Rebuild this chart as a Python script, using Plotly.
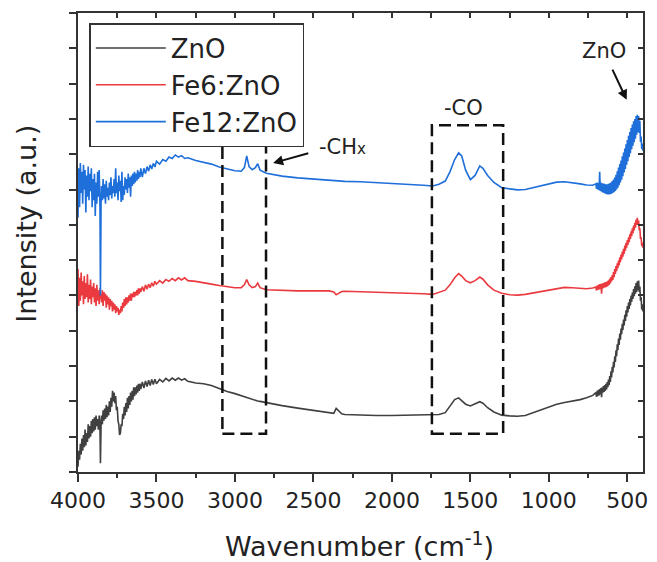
import plotly.graph_objects as go

# ---------------- data ----------------
series_names = ["ZnO", "Fe6:ZnO", "Fe12:ZnO"]

# wavenumber grid shared by the noisy high-wavenumber part (cm-1)
wn_noise = [4000, 3995, 3990, 3985, 3980, 3975, 3970, 3965, 3960, 3955, 3950, 3945, 3940, 3935, 3930, 3925,
            3920, 3915, 3910, 3905, 3900, 3895, 3890, 3885, 3880, 3875, 3870, 3865, 3860, 3857, 3853, 3850,
            3845, 3840, 3835, 3830, 3825, 3820, 3815, 3810, 3805, 3800, 3795, 3790, 3785, 3780, 3775, 3770,
            3765, 3760, 3755, 3750, 3745, 3740, 3735, 3730, 3725, 3720, 3715, 3710, 3705, 3700, 3695, 3690,
            3685, 3680, 3675, 3670, 3665, 3660, 3655, 3650, 3645, 3640, 3635, 3630, 3625, 3620, 3615, 3610,
            3605, 3600, 3590, 3580, 3570, 3560, 3550, 3540, 3530, 3520, 3510, 3500]
# middle part grid
wn_mid = [3480, 3460, 3440, 3420, 3400, 3380, 3360, 3340, 3320, 3300, 3250, 3200, 3150, 3100, 3050, 3000,
          2960, 2940, 2925, 2910, 2890, 2870, 2855, 2840, 2800, 2700, 2600, 2500, 2400, 2370, 2355, 2340,
          2320, 2300, 2200, 2100, 2000, 1900, 1800, 1740, 1700, 1660, 1630, 1600, 1575, 1555, 1530, 1500,
          1470, 1440, 1420, 1390, 1350, 1300, 1250, 1200, 1150, 1100, 1050, 1000, 950, 900, 850, 800, 760, 720]
# low-wavenumber (thick, noisy band) grid
wn_low = [700, 696, 692, 688, 684, 680, 676, 672, 668, 664, 660, 656, 652, 648, 644, 640, 636, 632, 628, 624,
          620, 616, 612, 608, 604, 600, 596, 592, 588, 584, 580, 576, 572, 568, 564, 560, 556, 552, 548, 544,
          540, 536, 532, 528, 524, 520, 516, 512, 508, 504, 500, 496, 492, 488, 484, 480, 476, 472, 468, 464,
          460, 456, 452, 448, 444, 440, 436, 432, 428, 424, 420, 416, 412, 408, 404, 401]

zno_noise = [0.15, 0.6, 0.35, 0.8, 0.5, 0.95, 0.6, 1.05, 0.7, 1.2, 0.75, 1.1, 0.85, 1.35, 0.95, 1.3,
             1.0, 1.45, 1.1, 1.5, 1.15, 1.55, 1.2, 1.6, 1.3, 1.5, 1.2, 1.6, 1.3, 0.25, 1.35, 1.6,
             1.35, 1.75, 1.45, 1.8, 1.5, 1.9, 1.55, 1.85, 1.6, 2.0, 1.7, 2.1, 1.85, 2.3, 2.0, 2.25,
             1.95, 2.15, 1.75, 1.85, 1.45, 1.35, 1.05, 1.1, 1.35, 1.3, 1.65, 1.5, 1.85, 1.6, 1.95, 1.7,
             2.1, 1.8, 2.15, 1.9, 2.25, 2.0, 2.3, 2.05, 2.4, 2.15, 2.4, 2.2, 2.45, 2.25, 2.5, 2.3,
             2.5, 2.35, 2.55, 2.38, 2.58, 2.42, 2.6, 2.45, 2.62, 2.48, 2.63, 2.5]
zno_mid = [2.62, 2.55, 2.65, 2.58, 2.66, 2.6, 2.66, 2.6, 2.64, 2.57, 2.52, 2.5, 2.45, 2.36, 2.28, 2.22,
           2.16, 2.13, 2.1, 2.08, 2.06, 2.03, 2.01, 2.0, 1.96, 1.88, 1.81, 1.74, 1.68, 1.66, 1.8, 1.74,
           1.65, 1.63, 1.61, 1.6, 1.6, 1.61, 1.62, 1.61, 1.63, 1.68, 1.85, 2.05, 2.1, 2.02, 1.92, 1.87,
           1.93, 1.99, 1.95, 1.82, 1.7, 1.61, 1.59, 1.58, 1.6, 1.68, 1.78, 1.86, 1.92, 1.97, 2.0, 2.05, 2.1, 2.17]
zno_low = [2.25, 2.13, 2.3, 2.15, 2.33, 2.17, 2.35, 2.2, 2.38, 2.12, 2.4, 2.25, 2.43, 2.27, 2.46, 2.3, 2.5, 2.34, 2.55, 2.4,
           2.62, 2.46, 2.72, 2.55, 2.85, 2.68, 2.98, 2.82, 3.12, 2.96, 3.28, 3.12, 3.45, 3.28, 3.62, 3.45, 3.78, 3.6, 3.92, 3.75,
           4.06, 3.9, 4.2, 4.02, 4.32, 4.15, 4.45, 4.28, 4.58, 4.4, 4.7, 4.52, 4.8, 4.62, 4.9, 4.72, 5.0, 4.82, 5.08, 4.9,
           5.18, 4.98, 5.26, 5.05, 5.35, 5.1, 5.4, 5.15, 5.42, 5.1, 5.25, 4.85, 4.95, 4.6, 4.75, 4.55]

fe6_noise = [5.75, 4.7, 5.5, 4.85, 5.65, 5.0, 5.4, 4.75, 5.55, 4.9, 5.35, 4.95, 5.6, 4.8, 5.3, 4.9,
             5.45, 4.75, 5.25, 4.95, 5.35, 4.8, 5.2, 4.7, 5.3, 4.85, 5.15, 4.75, 5.2, 4.9, 5.05, 4.8,
             5.15, 4.7, 5.1, 4.85, 5.05, 4.65, 5.0, 4.75, 4.95, 4.6, 4.9, 4.7, 4.85, 4.55, 4.8, 4.6,
             4.75, 4.5, 4.7, 4.55, 4.65, 4.45, 4.6, 4.5, 4.7, 4.55, 4.8, 4.65, 4.9, 4.7, 4.95, 4.75,
             4.95, 4.8, 5.0, 4.85, 5.05, 4.85, 5.05, 4.95, 5.1, 4.95, 5.1, 5.0, 5.15, 5.0, 5.2, 5.05,
             5.2, 5.1, 5.25, 5.12, 5.3, 5.18, 5.32, 5.22, 5.36, 5.26, 5.4, 5.32]
fe6_mid = [5.42, 5.35, 5.45, 5.4, 5.48, 5.42, 5.5, 5.44, 5.5, 5.42, 5.4, 5.35, 5.32, 5.28, 5.25, 5.22,
           5.22, 5.3, 5.45, 5.3, 5.22, 5.25, 5.35, 5.22, 5.16, 5.14, 5.13, 5.13, 5.13, 5.1, 5.02, 5.06,
           5.11, 5.12, 5.11, 5.1, 5.09, 5.07, 5.05, 5.03, 5.08, 5.15, 5.3, 5.5, 5.62, 5.55, 5.42, 5.36,
           5.42, 5.52, 5.46, 5.3, 5.15, 5.06, 5.02, 5.01, 5.03, 5.07, 5.12, 5.17, 5.21, 5.23, 5.22, 5.2, 5.19, 5.21]
fe6_low = [5.24, 5.14, 5.28, 5.16, 5.3, 5.17, 5.32, 5.18, 5.33, 5.05, 5.34, 5.2, 5.35, 5.22, 5.37, 5.23, 5.38, 5.24, 5.4, 5.27,
           5.43, 5.3, 5.48, 5.34, 5.52, 5.4, 5.58, 5.44, 5.66, 5.52, 5.75, 5.61, 5.83, 5.69, 5.91, 5.77, 5.99, 5.85, 6.08, 5.94,
           6.16, 6.02, 6.24, 6.1, 6.32, 6.18, 6.41, 6.27, 6.49, 6.35, 6.57, 6.43, 6.65, 6.51, 6.73, 6.6, 6.82, 6.68, 6.9, 6.76,
           6.98, 6.84, 7.06, 6.92, 7.15, 7.0, 7.2, 7.0, 7.12, 6.85, 6.9, 6.6, 6.65, 6.4, 6.5, 6.35]

fe12_noise = [7.2, 8.6, 7.5, 8.75, 7.9, 8.5, 7.6, 8.7, 8.0, 8.55, 7.35, 8.4, 7.8, 8.65, 7.7, 8.45,
              7.95, 8.6, 7.5, 8.3, 7.7, 8.45, 7.25, 8.2, 7.6, 8.5, 7.8, 8.55, 7.5, 5.0, 7.6, 8.1,
              7.7, 8.3, 7.75, 8.15, 7.6, 8.25, 7.8, 8.05, 7.7, 8.2, 7.85, 8.35, 7.75, 8.1, 7.9, 8.3,
              7.8, 8.6, 7.9, 8.2, 7.7, 8.4, 7.95, 8.25, 7.65, 8.5, 7.7, 8.1, 7.85, 8.35, 8.0, 8.3,
              7.9, 8.45, 8.05, 8.35, 7.8, 8.4, 8.1, 8.45, 8.15, 8.5, 8.2, 8.45, 8.25, 8.55, 8.3, 8.5,
              8.35, 8.6, 8.35, 8.6, 8.45, 8.65, 8.52, 8.7, 8.58, 8.74, 8.64, 8.8]
fe12_mid = [8.72, 8.85, 8.8, 8.92, 8.88, 8.98, 8.92, 8.96, 8.88, 8.9, 8.82, 8.78, 8.72, 8.64, 8.58, 8.53,
            8.52, 8.62, 8.95, 8.65, 8.56, 8.62, 8.73, 8.55, 8.46, 8.38, 8.33, 8.29, 8.26, 8.25, 8.24, 8.24,
            8.23, 8.23, 8.22, 8.2, 8.18, 8.15, 8.12, 8.1, 8.15, 8.24, 8.5, 8.85, 9.04, 8.95, 8.55, 8.28,
            8.4, 8.67, 8.6, 8.4, 8.2, 8.05, 8.01, 7.99, 8.0, 8.05, 8.12, 8.17, 8.21, 8.22, 8.2, 8.16, 8.13, 8.12]
fe12_low = [8.16, 8.02, 8.2, 8.0, 8.18, 7.98, 8.5, 7.96, 8.2, 7.94, 8.18, 7.92, 8.17, 7.9, 8.16, 7.88, 8.15, 7.87, 8.15, 7.86,
            8.16, 7.86, 8.18, 7.87, 8.2, 7.88, 8.24, 7.9, 8.28, 7.93, 8.34, 7.96, 8.42, 8.0, 8.52, 8.05, 8.62, 8.12, 8.72, 8.2,
            8.82, 8.28, 8.94, 8.38, 9.05, 8.48, 9.16, 8.58, 9.28, 8.7, 9.4, 8.8, 9.52, 8.92, 9.63, 9.03, 9.74, 9.14, 9.84, 9.24,
            9.93, 9.34, 10.0, 9.44, 10.08, 9.55, 10.12, 9.62, 10.08, 9.6, 9.95, 9.35, 9.5, 9.15, 9.3, 9.1]

x_ticks = [4000, 3500, 3000, 2500, 2000, 1500, 1000, 500]
x_range = [4000, 400]
y_range = [0, 13]

# dashed marker boxes: [wn_left, wn_right, intensity_bottom, intensity_top]
box_ch = [3080, 2802, 1.08, 9.26]
box_co = [1745, 1291, 1.08, 9.82]

colors = ["#404040", "#ea3a3f", "#1f6fdb"]
FONT = "DejaVu Sans"
AX = "#333333"
TXT = "#222222"

wn_all = wn_noise + wn_mid + wn_low
series_vals = [zno_noise + zno_mid + zno_low,
               fe6_noise + fe6_mid + fe6_low,
               fe12_noise + fe12_mid + fe12_low]

fig = go.Figure()
for name, ys, c in zip(series_names, series_vals, colors):
    fig.add_trace(go.Scatter(x=wn_all, y=ys, mode="lines", name=name,
                             line=dict(color=c, width=1.6)))

# empty helper trace so the mirrored (top/right) axes are drawn
fig.add_trace(go.Scatter(x=[None], y=[None], xaxis="x2", yaxis="y2",
                         showlegend=False, hoverinfo="skip"))

for b in (box_ch, box_co):
    fig.add_shape(type="rect", xref="x", yref="y", x0=b[0], x1=b[1], y0=b[2], y1=b[3],
                  line=dict(color="#111111", width=2.5, dash="12px,6px"), fillcolor="rgba(0,0,0,0)")

txt = dict(family=FONT, size=21, color=TXT)
fig.add_annotation(x=2480, y=9.2, xref="x", yref="y", xanchor="left", yanchor="middle",
                   text="-CH<span style='font-size:15px'>x</span>", showarrow=False, font=txt)
fig.add_annotation(x=2757, y=8.75, ax=2523, ay=9.04, xref="x", yref="y", axref="x", ayref="y",
                   text="", showarrow=True, arrowhead=2, arrowsize=1, arrowwidth=2, arrowcolor="#111111")
fig.add_annotation(x=1545, y=10.31, xref="x", yref="y", xanchor="center", yanchor="middle",
                   text="-CO", showarrow=False, font=txt)
fig.add_annotation(x=649, y=11.93, xref="x", yref="y", xanchor="center", yanchor="middle",
                   text="ZnO", showarrow=False, font=txt)
fig.add_annotation(x=504, y=10.54, ax=599, ay=11.44, xref="x", yref="y", axref="x", ayref="y",
                   text="", showarrow=True, arrowhead=2, arrowsize=1, arrowwidth=2, arrowcolor="#111111")

# axis titles
fig.add_annotation(x=-0.091, y=0.54, xref="paper", yref="paper", textangle=-90,
                   xanchor="center", yanchor="middle",
                   text="Intensity (a.u.)", showarrow=False,
                   font=dict(family=FONT, size=27, color=TXT))
fig.add_annotation(x=0.498, y=-0.157, xref="paper", yref="paper",
                   xanchor="center", yanchor="middle",
                   text="Wavenumber (cm<sup>-1</sup>)", showarrow=False,
                   font=dict(family=FONT, size=27, color=TXT))

fig.update_layout(
    width=657, height=562,
    margin=dict(l=78, r=9, t=13, b=90),
    paper_bgcolor="white", plot_bgcolor="white",
    font=dict(family=FONT, color=TXT),
    showlegend=True,
    legend=dict(x=0.02, y=0.978, xanchor="left", yanchor="top",
                bgcolor="white", bordercolor=AX, borderwidth=1.5,
                font=dict(family=FONT, size=26, color=TXT),
                tracegroupgap=0, itemwidth=70),
    xaxis=dict(range=x_range, tickmode="array", tickvals=x_ticks, ticks="outside", ticklen=8,
               tickwidth=2, tickcolor=AX, showline=True, linewidth=2, linecolor=AX,
               showgrid=False, zeroline=False, tickfont=dict(family=FONT, size=22, color=TXT),
               ticklabelstandoff=0,
               minor=dict(dtick=250, ticks="outside", ticklen=4, tickwidth=2, tickcolor=AX)),
    yaxis=dict(range=y_range, dtick=1, ticks="outside", ticklen=7, tickwidth=2, tickcolor=AX,
               showline=True, linewidth=2, linecolor=AX, showgrid=False, zeroline=False,
               showticklabels=False),
    xaxis2=dict(range=x_range, overlaying="x", side="top", anchor="y", dtick=250, tick0=0,
                ticks="inside", ticklen=5, tickwidth=2, tickcolor=AX, showline=True, linewidth=2,
                linecolor=AX, showgrid=False, zeroline=False, showticklabels=False),
    yaxis2=dict(range=y_range, overlaying="y", side="right", anchor="x", dtick=1,
                ticks="inside", ticklen=5, tickwidth=2, tickcolor=AX, showline=True, linewidth=2,
                linecolor=AX, showgrid=False, zeroline=False, showticklabels=False),
)

fig.write_html("out.html")
